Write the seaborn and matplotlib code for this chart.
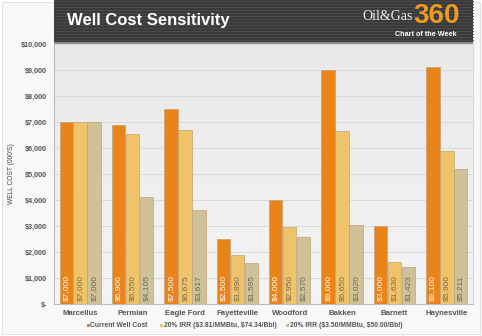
import numpy as np
import pandas as pd
import matplotlib
matplotlib.use("Agg")
import matplotlib.pyplot as plt
from matplotlib.patches import Rectangle
import seaborn as sns

# Well cost by play, in thousands of dollars
plays = ["Marcellus", "Permian", "Eagle Ford", "Fayetteville", "Woodford",
         "Bakken", "Barnett", "Haynesville"]
current_cost = [7000, 6900, 7500, 2500, 4000, 9000, 3000, 9100]
irr_high_price = [7000, 6550, 6675, 1890, 2950, 6650, 1630, 5900]
irr_low_price = [7000, 4105, 3617, 1595, 2570, 3020, 1423, 5211]

series_names = ["Current Well Cost",
                "20% IRR (\\$3.81/MMBtu, \\$74.34/Bbl)",
                "20% IRR (\\$3.50/MMBtu, \\$50.00/Bbl)"]
series_values = [current_cost, irr_high_price, irr_low_price]
colors = ["#E8841A", "#EFC36A", "#CFC198"]
label_colors = ["#FFFFFF", "#7A6A4A", "#6E6655"]

y_ticks = [0, 1000, 2000, 3000, 4000, 5000, 6000, 7000, 8000, 9000, 10000]
y_tick_labels = ["$-", "$1,000", "$2,000", "$3,000", "$4,000", "$5,000",
                 "$6,000", "$7,000", "$8,000", "$9,000", "$10,000"]

df = pd.DataFrame({
    "play": np.repeat([plays], 3, axis=0).ravel(),
    "series": np.repeat(series_names, len(plays)),
    "cost": np.concatenate(series_values),
})

sns.set_theme(style="white")
plt.rcParams["font.family"] = ["Liberation Sans", "DejaVu Sans"]

W, H = 482, 336
fig = plt.figure(figsize=(W / 100, H / 100), dpi=100)
fig.patch.set_facecolor("#FFFFFF")

# Light frame and background behind the chart body
fig.patches.append(Rectangle((2 / W, 2 / H), (W - 4) / W, (H - 4) / H,
                             transform=fig.transFigure, facecolor="#F8F8F8",
                             edgecolor="#E2E2E2", lw=0.8, zorder=-5))

ax_left, ax_right = 54 / W, 473 / W
ax_bottom, ax_top = 1 - 304 / H, 1 - 44 / H
ax = fig.add_axes([ax_left, ax_bottom, ax_right - ax_left, ax_top - ax_bottom])

# Soft vertical gradient in the plotting area
grad = np.linspace(0, 1, 256).reshape(-1, 1)
ax.imshow(grad, extent=[-0.5, len(plays) - 0.5, 0, 10000], aspect="auto",
          cmap=matplotlib.colors.LinearSegmentedColormap.from_list(
              "bg", ["#F4F4F4", "#E9E9E9"]),
          origin="lower", zorder=0)

sns.barplot(data=df, x="play", y="cost", hue="series", hue_order=series_names,
            palette=colors, width=0.8, gap=0.04, ax=ax, legend=False,
            edgecolor="#C0A27A", linewidth=0.5, saturation=1, zorder=3)

ax.set_xlim(-0.5, len(plays) - 0.5)
ax.set_ylim(0, 10000)
ax.set_yticks(y_ticks)
ax.set_yticklabels(y_tick_labels)
ax.yaxis.grid(True, color="#DADADA", lw=0.7, zorder=1)
ax.set_axisbelow(True)

ax.spines["top"].set_visible(False)
ax.spines["left"].set_color("#BDBDBD")
ax.spines["bottom"].set_color("#BDBDBD")
ax.spines["right"].set_color("#D8D8D8")
for s in ax.spines.values():
    s.set_linewidth(0.8)

ax.tick_params(axis="y", labelsize=5.2, colors="#555555", length=0, pad=5)
ax.tick_params(axis="x", labelsize=5.6, colors="#555555", length=0, pad=4)
for t in ax.get_xticklabels():
    t.set_fontweight("bold")
for t in ax.get_yticklabels():
    t.set_fontweight("bold")
ax.set_xlabel("")
ax.set_ylabel("WELL COST (000'S)", fontsize=4.8, color="#444444",
              labelpad=4)

# Value labels inside each bar, anchored at the base
for container, vals, lc in zip(ax.containers, series_values, label_colors):
    for patch, v in zip(container.patches, vals):
        cx = patch.get_x() + patch.get_width() / 2
        ax.text(cx, 120, f"${v:,}", rotation=90, ha="center", va="bottom",
                fontsize=6, color=lc, zorder=5)

# Header band with fine horizontal stripes
hx0, hx1 = 54 / W, 473 / W
hy0 = 1 - 42 / H
fig.patches.append(Rectangle((hx0, hy0), hx1 - hx0, 1 - hy0,
                             transform=fig.transFigure, facecolor="#38383A",
                             edgecolor="none", zorder=1))
for py in range(1, 41, 3):
    y = 1 - py / H
    fig.lines.append(plt.Line2D([hx0, hx1], [y, y], transform=fig.transFigure,
                                color="#4A4A4C", lw=0.9, zorder=2))
fig.patches.append(Rectangle((hx0, hy0 - 2 / H), hx1 - hx0, 2 / H,
                             transform=fig.transFigure, facecolor="#8A8A8A",
                             edgecolor="none", zorder=2))

fig.text(67 / W, 1 - 20 / H, "Well Cost Sensitivity", color="white",
         fontsize=12, fontweight="bold", va="center", ha="left", zorder=3)
fig.text(413 / W, 1 - 17 / H, "Oil&Gas", color="#F2F2F2", fontsize=10,
         family="Liberation Serif", va="center", ha="right", zorder=3)
fig.text(413 / W, 1 - 16 / H, "360", color="#EE9A1E", fontsize=20,
         fontweight="bold", va="center", ha="left", zorder=3)
fig.text(457 / W, 1 - 35 / H, "Chart of the Week", color="white",
         fontsize=5.2, fontweight="bold", va="center", ha="right", zorder=3)

# Legend row beneath the categories
legend_x = [87, 160, 286]
for x, name, c in zip(legend_x, series_names, colors):
    fig.patches.append(Rectangle((x / W, 1 - 327 / H), 3 / W, 3 / H,
                                 transform=fig.transFigure, facecolor=c,
                                 edgecolor="none", zorder=3))
    fig.text((x + 3.5) / W, 1 - 325.5 / H, name, fontsize=4.9,
             color="#555555", fontweight="bold", va="center", ha="left",
             zorder=3)

fig.savefig("out.png", dpi=100, facecolor=fig.get_facecolor())
